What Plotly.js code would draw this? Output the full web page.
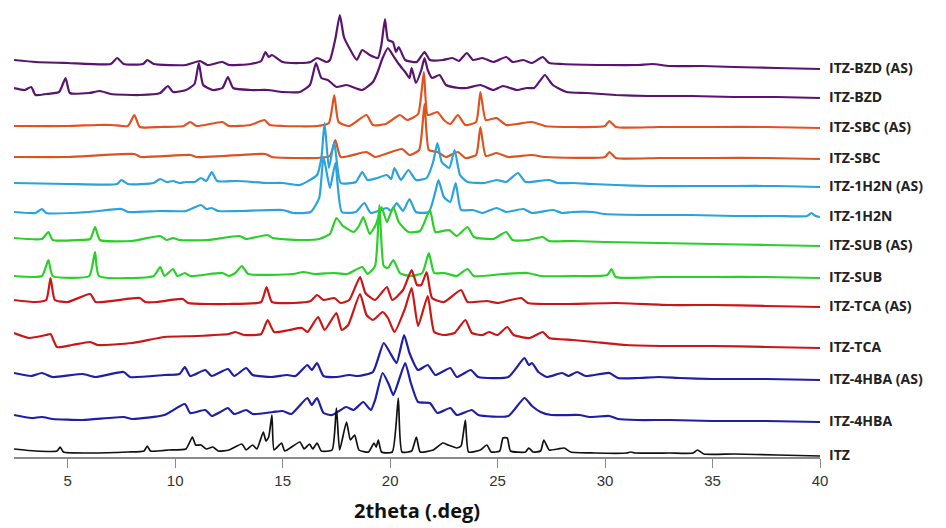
<!DOCTYPE html>
<html>
<head>
<meta charset="utf-8">
<script src="https://cdn.plot.ly/plotly-3.0.1.min.js"></script>
<style>html,body{margin:0;padding:0;background:#fff;}#chart{width:946px;height:528px;}</style>
</head>
<body>
<div id="chart"></div>
<script>
// Sample names (top to bottom)
const names = ["ITZ-BZD (AS)","ITZ-BZD","ITZ-SBC (AS)","ITZ-SBC","ITZ-1H2N (AS)","ITZ-1H2N","ITZ-SUB (AS)","ITZ-SUB","ITZ-TCA (AS)","ITZ-TCA","ITZ-4HBA (AS)","ITZ-4HBA","ITZ"];
// Vertical stacking offset of each pattern (intensity units)
const offsets = [388,359,329,298,270,240,211,179,150,109,77,35,1];
// Patterns: [2theta (deg), intensity]
const bzdAS = [[2.5,9],[3.5,7],[5,6],[7.0,5],[7.3,11],[7.6,5],[8.5,5],[8.7,9],[9.0,5],[10.5,4],[11.15,8],[11.5,4],[12.2,7],[12.5,4],[13.5,5],[14.0,8],[14.2,17],[14.35,12],[14.5,14],[15.0,7],[15.8,6],[16.3,7],[16.6,11],[17.05,7],[17.2,9],[17.45,30],[17.66,54],[17.85,32],[18.1,21],[18.45,9],[18.7,19],[19.05,14],[19.43,11],[19.6,25],[19.76,50],[19.9,29],[20.13,27],[20.27,17],[20.4,22],[20.7,9],[21.24,7],[21.6,17],[21.85,9],[22.45,9],[22.9,11],[23.2,8],[23.57,16],[23.85,9],[24.3,11],[24.8,7],[25.4,12],[25.7,7],[26.2,9],[26.6,6],[27.1,12],[27.4,6],[28,5],[30,4],[31.5,4],[32.2,5],[33,3],[34.5,3],[36,2],[38,1],[40,0]];
const bzd = [[2.5,10],[3.0,8],[3.3,11],[3.5,3],[4.0,4],[4.6,6],[4.9,20],[5.1,5],[6.0,5],[6.5,7],[7.0,4],[8.35,3],[9.3,5],[9.66,12],[9.9,6],[10.5,8],[10.9,14],[11.1,35],[11.3,13],[11.75,8],[12.2,10],[12.45,21],[12.7,10],[13.5,8],[14.3,8],[15.0,6],[15.8,6],[16.27,13],[16.55,35],[16.8,20],[17.1,18],[17.5,11],[17.97,13],[18.7,8],[19.2,16],[19.4,25],[19.65,40],[19.9,50],[20.15,42],[20.4,34],[20.7,26],[20.9,20],[21.0,30],[21.2,15],[21.45,28],[21.6,40],[21.75,28],[21.95,20],[22.3,23],[22.6,13],[23.2,10],[23.57,10],[24.2,13],[24.8,8],[25.25,12],[25.9,8],[26.36,10],[26.7,10],[27.0,18],[27.2,23],[27.57,13],[28.2,6],[29.15,5],[30.5,3],[32,2],[34,2],[36,1],[38,1],[40,0]];
const sbcAS = [[2.5,2],[5,2],[6.35,3],[7.05,3],[7.8,2],[8.1,13],[8.35,1],[9.3,1],[10.4,2],[10.7,6],[11.0,2],[12.2,6],[12.5,2],[13.5,3],[14.15,8],[14.4,3],[15.0,2],[16.6,2],[17.15,5],[17.4,33],[17.6,6],[18.1,2],[18.9,13],[19.2,3],[19.8,4],[20.45,13],[20.8,8],[21.3,14],[21.57,56],[21.75,13],[22.2,16],[22.5,8],[22.8,4],[23.15,13],[23.5,3],[24.0,6],[24.2,36],[24.45,8],[24.95,10],[25.4,3],[25.9,4],[26.6,6],[27.2,2],[28.5,1],[30.0,2],[30.2,7],[30.5,1],[32.5,1],[35,1],[37.5,1],[40,0]];
const sbc = [[2.5,2],[5,2],[8.1,5],[8.4,2],[10.7,4],[11.0,2],[12.2,3],[14.2,5],[14.5,2],[16.6,1],[17.2,3],[17.45,19],[17.7,2],[18.9,7],[19.3,2],[20.55,10],[20.9,4],[21.35,9],[21.6,55],[21.8,9],[22.2,7],[22.6,2],[23.15,7],[23.5,1],[24.0,4],[24.2,32],[24.45,3],[24.95,6],[25.5,2],[26.6,4],[27.2,2],[30.0,2],[30.2,7],[30.5,1],[32.5,1],[35,1],[37.5,1],[40,0]];
const h2nAS = [[2.5,4],[5,3],[7.3,3],[7.5,7],[7.8,3],[9.0,4],[9.3,8],[9.6,5],[9.9,6],[10.2,4],[10.5,5],[10.9,5],[11.2,9],[11.45,6],[11.7,15],[11.95,6],[12.9,6],[14.3,4],[15.0,4],[15.8,2],[16.6,12],[16.8,29],[16.95,64],[17.15,19],[17.4,45],[17.7,4],[18.4,5],[18.7,15],[18.95,7],[19.4,9],[19.85,12],[20.05,8],[20.2,19],[20.5,7],[20.85,17],[21.2,7],[21.7,9],[22.0,25],[22.2,44],[22.4,25],[22.75,19],[23.0,37],[23.25,12],[23.6,5],[24.4,4],[24.95,7],[25.4,5],[25.95,14],[26.3,5],[27.4,7],[27.8,4],[28.5,4],[29.4,3],[30.5,2],[32,1],[34,1],[36,1],[38,1],[40,0]];
const h2n = [[2.5,5],[3.5,4],[3.8,8],[4.0,4],[6.0,5],[7.5,8],[7.8,5],[9.3,6],[10.5,6],[11.2,12],[11.45,8],[11.7,9],[12.0,6],[13.0,6],[15.0,7],[15.5,4],[16.3,5],[16.7,19],[16.9,60],[17.2,29],[17.45,54],[17.75,5],[18.4,5],[18.8,14],[19.1,4],[19.85,9],[20.05,6],[20.3,14],[20.6,6],[20.9,18],[21.2,5],[21.8,5],[22.1,25],[22.25,37],[22.5,20],[22.8,15],[23.05,34],[23.3,7],[23.85,7],[24.3,4],[24.95,9],[25.4,5],[26.2,8],[26.6,4],[27.6,7],[28.0,4],[28.5,5],[29.4,5],[30,3],[32,2],[34,2],[36,1],[38,1],[39.4,1],[39.6,4],[39.8,1],[40,0]];
const subAS = [[2.5,8],[3.8,7],[4.1,14],[4.3,6],[5.5,6],[6.05,7],[6.27,19],[6.5,6],[8.0,5],[9.3,10],[9.6,6],[9.9,8],[10.2,6],[11.5,6],[13.0,10],[13.3,7],[14.3,11],[14.55,8],[15.8,6],[16.7,7],[17.2,12],[17.5,28],[17.8,20],[17.95,18],[18.3,14],[18.55,20],[18.75,29],[19.05,12],[19.35,22],[19.6,39],[19.85,24],[20.15,39],[20.4,24],[20.85,14],[21.4,15],[21.85,36],[22.1,14],[22.45,15],[22.75,16],[23.1,10],[23.6,19],[23.9,9],[24.8,7],[25.4,14],[25.7,6],[26.4,6],[27.1,9],[27.4,5],[28.5,5],[30,4],[32.5,3],[35,2],[37.5,1],[40,0]];
const sub = [[2.5,2],[3.8,2],[4.1,18],[4.3,2],[6.0,2],[6.27,26],[6.45,2],[9.0,2],[9.3,11],[9.5,2],[9.9,9],[10.1,2],[10.45,5],[10.7,2],[12.2,5],[12.5,2],[12.8,5],[13.1,12],[13.4,4],[15.5,4],[15.95,6],[16.5,4],[17.35,5],[18.0,4],[18.7,11],[18.95,4],[19.3,12],[19.5,73],[19.7,12],[19.9,10],[20.15,18],[20.45,5],[20.9,2],[21.5,5],[21.8,25],[22.05,5],[22.5,5],[23.1,2],[23.6,9],[23.9,2],[25.25,4],[26.4,5],[27,2],[28.5,2],[30.1,3],[30.3,9],[30.5,1],[32.5,1],[35,1],[37.5,1],[40,0]];
const tcaAS = [[2.5,7],[3.5,5],[4.0,7],[4.2,29],[4.4,7],[5.0,5],[6.05,13],[6.3,5],[8.35,9],[8.6,5],[9.15,5],[10.35,8],[10.6,4],[12.5,3],[14.0,5],[14.25,20],[14.5,5],[15.5,4],[16.3,6],[16.6,12],[16.9,7],[17.4,9],[17.7,4],[18.1,7],[18.6,30],[18.85,14],[19.3,7],[19.85,20],[20.1,7],[20.6,17],[21.0,37],[21.25,22],[21.45,22],[21.7,35],[21.95,9],[22.5,5],[23.3,17],[23.6,5],[24.5,6],[25,4],[26.1,9],[26.4,4],[28,3],[30.5,4],[33,2],[35,2],[37.5,1],[40,0]];
const tca = [[2.5,15],[3.2,10],[4.0,13],[4.2,14],[4.5,1],[5.2,3],[6.05,6],[6.4,3],[8,5],[9.5,11],[11,12],[12.5,14],[12.8,16],[13.2,13],[14.0,14],[14.3,28],[14.6,16],[15.3,18],[15.9,20],[16.15,16],[16.65,31],[16.95,18],[17.5,35],[17.75,18],[18.05,23],[18.6,54],[18.9,33],[19.2,28],[19.65,36],[19.9,30],[20.2,16],[20.7,40],[21.0,60],[21.3,22],[21.75,52],[22.05,16],[22.5,13],[23.0,15],[23.5,28],[23.8,15],[24.3,13],[24.6,16],[25.0,13],[25.45,21],[25.75,13],[26.5,10],[27.1,16],[27.4,10],[28.5,8],[29.5,6],[31,3],[33,2],[35,2],[37.5,1],[40,0]];
const hbaAS = [[2.5,7],[3.3,4],[3.8,7],[4.3,3],[5.7,6],[6.3,3],[7.6,8],[7.9,3],[9.5,5],[10.2,6],[10.45,13],[10.7,4],[11.4,10],[11.7,4],[12.45,11],[12.75,4],[13.3,12],[13.6,5],[14.5,3],[15.2,5],[15.6,4],[16.15,15],[16.35,10],[16.6,17],[16.9,4],[17.5,3],[18.1,5],[18.5,4],[19.2,8],[19.7,37],[20.0,27],[20.3,17],[20.65,45],[20.9,27],[21.3,10],[21.75,15],[22.1,5],[22.8,12],[23.1,3],[23.75,10],[24.1,3],[25.5,3],[26.25,22],[26.45,15],[26.6,17],[26.9,8],[27.3,3],[28.0,7],[28.3,4],[28.7,8],[29.1,4],[30.2,7],[30.6,2],[31.5,2],[32.5,3],[33.5,2],[35,1],[37.5,1],[40,0]];
const hba = [[2.5,7],[3.3,4],[3.8,5],[4.3,3],[5.7,2],[7.6,5],[8.0,3],[9.5,7],[10.45,18],[10.7,9],[11.4,12],[11.7,6],[12.1,10],[12.45,14],[12.75,8],[13.3,12],[13.6,8],[14.55,10],[15.0,11],[15.4,8],[16.15,24],[16.35,17],[16.6,24],[16.9,9],[17.3,7],[17.95,15],[18.3,12],[18.75,20],[19.1,12],[19.3,22],[19.65,49],[19.95,37],[20.15,27],[20.7,59],[20.95,40],[21.3,20],[21.85,19],[22.2,9],[22.8,14],[23.1,7],[23.8,12],[24.1,7],[25.5,6],[26.25,24],[26.6,16],[27.0,10],[27.5,7],[28.8,7],[29.3,5],[30.2,6],[30.6,3],[31.5,2],[33,2],[35,1],[37.5,1],[40,0]];
const itz = [[2.5,7],[3.5,5],[4.5,5],[4.65,9],[4.8,4],[6,3],[7.8,4],[8.55,5],[8.7,10],[8.85,5],[9.7,6],[10.5,7],[10.8,19],[10.95,11],[11.2,11],[11.45,7],[11.75,9],[12.0,5],[12.5,6],[13.1,12],[13.3,6],[13.6,11],[13.8,7],[14.1,24],[14.22,15],[14.35,19],[14.5,41],[14.6,6],[14.95,13],[15.1,5],[15.8,14],[16.0,7],[16.25,12],[16.4,7],[16.6,13],[16.8,5],[17.3,6],[17.5,48],[17.65,6],[17.97,34],[18.15,16],[18.35,21],[18.55,6],[19.0,4],[19.25,13],[19.35,9],[19.45,16],[19.6,4],[20.1,4],[20.38,58],[20.55,4],[21.0,5],[21.22,19],[21.4,4],[22.0,6],[22.45,13],[22.7,11],[23.1,8],[23.3,10],[23.5,36],[23.65,4],[24.2,6],[24.5,11],[24.7,4],[25.1,5],[25.25,18],[25.45,18],[25.6,5],[26.3,4],[26.45,8],[26.65,4],[27.0,5],[27.15,16],[27.4,6],[27.8,7],[28.1,8],[28.4,4],[29.5,3],[31.0,3],[31.2,4],[31.4,3],[33,3],[34.1,3],[34.3,6],[34.6,2],[36,2],[38,1],[40,0]];
const patterns = [bzdAS,bzd,sbcAS,sbc,h2nAS,h2n,subAS,sub,tcaAS,tca,hbaAS,hba,itz];
const tickVals = [5,10,15,20,25,30,35,40];

const colors = ["#5a1470","#5a1470","#e2521f","#d9541f","#2aa3dc","#2aa3dc","#28d028","#28d028","#cc1616","#cc1616","#1e1ea6","#1e1ea6","#111111"];

const traces = patterns.map((p,i)=>({
  x: p.map(d=>d[0]),
  y: p.map(d=>d[1]+offsets[i]),
  type:'scatter', mode:'lines', name:names[i],
  line:{color:colors[i], width: i===12?1.7:2.2, shape:'spline', smoothing:0.5},
  hoverinfo:'skip'
}));

const annotations = names.map((n,i)=>({
  text:n, xref:'paper', yref:'y', x:1.009, y:offsets[i], xanchor:'left', yanchor:'middle',
  showarrow:false, yshift:2,
  font:{family:'Open Sans, Liberation Sans, sans-serif', size:14, color:'#222', weight:'bold'}
}));

const layout = {
  width:946, height:528,
  margin:{l:14, r:126, t:1, b:71},
  paper_bgcolor:'#fff', plot_bgcolor:'#fff',
  showlegend:false,
  xaxis:{range:[2.5,40], tickvals:tickVals, ticks:'outside', ticklen:9, tickcolor:'#8a8a8a', tickwidth:1,
    showline:true, linecolor:'#8a8a8a', linewidth:1.5, showgrid:false, zeroline:false,
    tickfont:{family:'Liberation Sans, Arial, sans-serif', size:15, color:'#333'},
    title:{text:'<b>2theta (.deg)</b>', standoff:16, font:{family:'Open Sans, Liberation Sans, sans-serif', size:20, color:'#111'}}},
  yaxis:{range:[0,456], visible:false, showgrid:false, zeroline:false, fixedrange:true},
  annotations: annotations
};
Plotly.newPlot('chart', traces, layout, {displayModeBar:false, staticPlot:true});
</script>
</body>
</html>
